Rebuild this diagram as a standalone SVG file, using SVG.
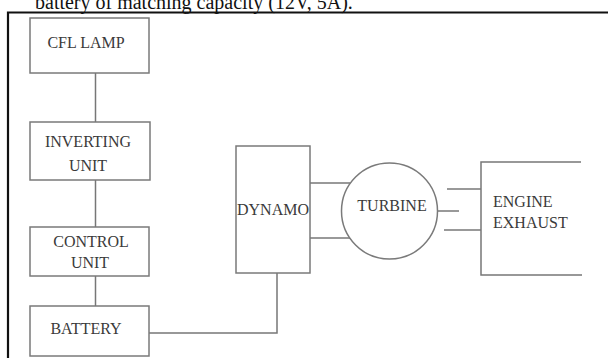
<svg xmlns="http://www.w3.org/2000/svg" width="608" height="358" viewBox="0 0 608 358">
<style>
.box{fill:#fff;stroke:#7a7a7a;stroke-width:1.5}
.ln{fill:none;stroke:#777;stroke-width:1.5}
.t{font-family:"Liberation Serif","Times New Roman",serif;font-size:16px;fill:#3a3a3a;text-anchor:middle}
.tl{font-family:"Liberation Serif","Times New Roman",serif;font-size:16px;fill:#3a3a3a}
</style>
<rect width="608" height="358" fill="#fff"/>
<text x="35" y="9" font-family="'Liberation Serif','Times New Roman',serif" font-size="20" fill="#111">battery of matching capacity (12V, 5A).</text>
<path d="M8 358 V12.5 H608" fill="none" stroke="#111" stroke-width="2.2"/>
<g id="connectors">
<path class="ln" d="M95.5 73 V122"/>
<path class="ln" d="M95.5 180 V227"/>
<path class="ln" d="M95.5 276 V306"/>
<path class="ln" d="M149 333 H277 V273"/>
<path class="ln" d="M310 183 H350"/>
<path class="ln" d="M310 238 H350"/>
<path class="ln" d="M447 189 H481"/>
<path class="ln" d="M437 211 H459"/>
<path class="ln" d="M444 230 H481"/>
</g>
<g id="cfl"><rect class="box" x="30" y="18" width="119" height="55"/><text class="t" x="86" y="48">CFL LAMP</text></g>
<g id="inverting"><rect class="box" x="30" y="122" width="120" height="58"/><text class="t" x="88" y="147">INVERTING</text><text class="t" x="88" y="171">UNIT</text></g>
<g id="control"><rect class="box" x="30" y="227" width="119" height="49"/><text class="t" x="91" y="247">CONTROL</text><text class="t" x="90" y="268">UNIT</text></g>
<g id="battery"><rect class="box" x="30" y="306" width="119" height="50"/><text class="t" x="86" y="334">BATTERY</text></g>
<g id="dynamo"><rect class="box" x="236" y="146" width="74" height="127"/><text class="t" x="273" y="215">DYNAMO</text></g>
<g id="turbine"><circle class="box" cx="389.5" cy="211" r="48"/><text class="t" x="392" y="211">TURBINE</text></g>
<g id="exhaust"><path class="ln" d="M581 162 H481 V275 H582"/><text class="tl" x="493" y="207">ENGINE</text><text class="tl" x="493" y="228">EXHAUST</text></g>
</svg>
